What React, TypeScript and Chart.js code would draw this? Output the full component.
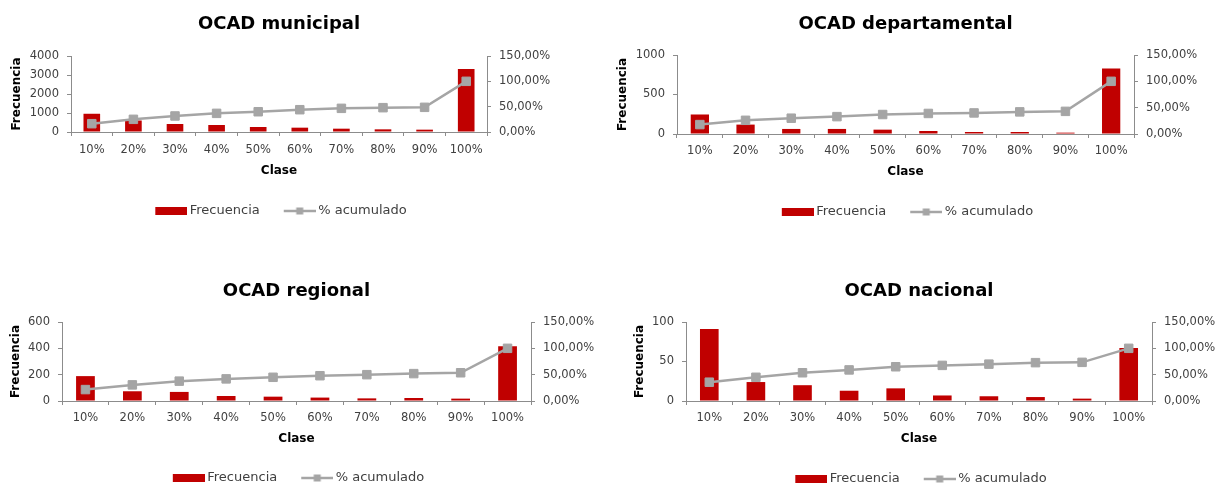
import React, { useEffect, useRef } from 'react';
import { Chart, registerables } from 'chart.js';

Chart.register(...registerables);

// ---------- data ----------
const categories = ['10%', '20%', '30%', '40%', '50%', '60%', '70%', '80%', '90%', '100%'];

const municipalFreq = [960, 605, 420, 368, 263, 228, 175, 140, 123, 3316];
const municipalPct = [16.4, 25.0, 31.6, 36.8, 40.0, 44.0, 46.7, 48.0, 48.7, 100];

const departamentalFreq = [247, 119, 64, 64, 55, 38, 25, 25, 17, 830];
const departamentalPct = [17.9, 26.0, 30.0, 33.0, 37.0, 39.0, 40.0, 42.0, 43.0, 100];

const regionalFreq = [189, 74, 69, 38, 33, 26, 20, 23, 18, 416];
const regionalPct = [21.7, 30.6, 37.7, 42.0, 45.0, 48.0, 50.0, 52.0, 53.6, 100];

const nacionalFreq = [91, 24, 20, 13, 16, 7, 6, 5, 3, 67];
const nacionalPct = [35.7, 45.0, 53.6, 59.0, 65.0, 67.6, 70.0, 72.8, 73.4, 100];

const seriesNames = ['Frecuencia', '% acumulado'];
const axisTitles = { y: 'Frecuencia', x: 'Clase' };

// ---------- styles ----------
const FONT = '"DejaVu Sans", sans-serif';
const BAR_COLOR = '#C00000';
const LINE_COLOR = '#A5A5A5';
const AXIS_COLOR = '#8C8C8C';
const TEXT_COLOR = '#404040';

Chart.defaults.font.family = FONT;

function makeBarSwatch(): HTMLCanvasElement {
  const c = document.createElement('canvas');
  c.width = 40;
  c.height = 8;
  const ctx = c.getContext('2d')!;
  ctx.fillStyle = BAR_COLOR;
  ctx.fillRect(8, 0, 32, 8);
  return c;
}

function makeLineSwatch(): HTMLCanvasElement {
  const c = document.createElement('canvas');
  c.width = 40;
  c.height = 10;
  const ctx = c.getContext('2d')!;
  ctx.strokeStyle = LINE_COLOR;
  ctx.lineWidth = 2.5;
  ctx.beginPath();
  ctx.moveTo(8, 5);
  ctx.lineTo(40, 5);
  ctx.stroke();
  ctx.fillStyle = LINE_COLOR;
  ctx.fillRect(24 - 3.5, 1.5, 7, 7);
  return c;
}

type Geo = {
  left: number; top: number; width: number; height: number;
  L: number; R: number; T: number; B: number;
  titleY: number; labelY: number; claseY: number; legendY: number; yTitleX: number;
};

type Props = {
  title: string;
  freq: number[];
  pct: number[];
  yMax: number;
  yStep: number;
  geo: Geo;
};

function ParetoChart({ title, freq, pct, yMax, yStep, geo }: Props) {
  const ref = useRef<HTMLCanvasElement | null>(null);

  useEffect(() => {
    if (!ref.current) return;
    const LEG_PAD = 20;
    const legendTop = geo.legendY - (LEG_PAD + 6.5);
    const xHeight = legendTop - geo.B;
    const legendHeight = 13 + LEG_PAD + 10;
    const padBottom = geo.height - (legendTop + legendHeight);
    const barSwatch = makeBarSwatch();
    const lineSwatch = makeLineSwatch();

    const chart = new Chart(ref.current, {
      type: 'bar',
      data: {
        labels: categories,
        datasets: [
          {
            type: 'bar',
            label: seriesNames[0],
            data: freq,
            backgroundColor: BAR_COLOR,
            yAxisID: 'y',
            order: 1,
            categoryPercentage: 1,
            barPercentage: 0.4,
          } as any,
          {
            type: 'line',
            label: seriesNames[1],
            data: pct,
            yAxisID: 'y1',
            borderColor: LINE_COLOR,
            borderWidth: 2.5,
            pointStyle: 'rect',
            pointRadius: 6,
            pointBackgroundColor: LINE_COLOR,
            pointBorderColor: LINE_COLOR,
            pointBorderWidth: 1,
            order: 0,
            tension: 0,
          } as any,
        ],
      },
      options: {
        animation: false,
        responsive: false,
        maintainAspectRatio: false,
        layout: { padding: { left: 0, right: 0, top: 0, bottom: padBottom } },
        plugins: {
          tooltip: { enabled: false },
          title: {
            display: true,
            text: title,
            fullSize: false,
            color: '#000000',
            font: { size: 18, weight: 'bold', family: FONT },
            padding: { top: geo.titleY - 10.8, bottom: geo.T - geo.titleY - 10.8 },
          },
          legend: {
            display: true,
            position: 'bottom',
            fullSize: false,
            labels: {
              usePointStyle: true,
              pointStyleWidth: 32,
              padding: LEG_PAD,
              color: TEXT_COLOR,
              font: { size: 13, family: FONT },
              generateLabels: () => [
                {
                  text: seriesNames[0],
                  pointStyle: barSwatch as any,
                  fillStyle: BAR_COLOR,
                  strokeStyle: 'rgba(0,0,0,0)',
                  lineWidth: 0,
                  hidden: false,
                  datasetIndex: 0,
                  fontColor: TEXT_COLOR,
                },
                {
                  text: seriesNames[1],
                  pointStyle: lineSwatch as any,
                  fillStyle: LINE_COLOR,
                  strokeStyle: 'rgba(0,0,0,0)',
                  lineWidth: 0,
                  hidden: false,
                  datasetIndex: 1,
                  fontColor: TEXT_COLOR,
                },
              ],
            },
          },
        },
        scales: {
          x: {
            type: 'category',
            offset: true,
            afterFit: (s: any) => { s.height = xHeight; },
            grid: {
              display: true,
              offset: true,
              drawOnChartArea: false,
              drawTicks: true,
              tickLength: 4,
              color: AXIS_COLOR,
            },
            border: { display: true, color: AXIS_COLOR, width: 1 },
            ticks: {
              color: TEXT_COLOR,
              font: { size: 11.5, family: FONT },
              padding: geo.labelY - geo.B - 4 - 6.9,
              maxRotation: 0,
              minRotation: 0,
              autoSkip: false,
            },
            title: {
              display: true,
              text: axisTitles.x,
              color: '#000000',
              font: { size: 12, weight: 'bold', family: FONT },
              padding: { top: 0, bottom: legendTop - 7.2 - geo.claseY },
            },
          },
          y: {
            type: 'linear',
            position: 'left',
            min: 0,
            max: yMax,
            afterFit: (s: any) => { s.width = geo.L; },
            grid: {
              display: true,
              drawOnChartArea: false,
              drawTicks: true,
              tickLength: 4,
              color: AXIS_COLOR,
            },
            border: { display: true, color: AXIS_COLOR, width: 1 },
            ticks: {
              stepSize: yStep,
              color: TEXT_COLOR,
              font: { size: 11.5, family: FONT },
              padding: 8,
              callback: (v: any) => String(v),
            },
            title: {
              display: true,
              text: axisTitles.y,
              color: '#000000',
              font: { size: 12, weight: 'bold', family: FONT },
              padding: { top: geo.yTitleX - 7.2, bottom: 0 },
            },
          },
          y1: {
            type: 'linear',
            position: 'right',
            min: 0,
            max: 150,
            afterFit: (s: any) => { s.width = geo.width - geo.R; },
            grid: {
              display: true,
              drawOnChartArea: false,
              drawTicks: true,
              tickLength: 4,
              color: AXIS_COLOR,
            },
            border: { display: true, color: AXIS_COLOR, width: 1 },
            ticks: {
              stepSize: 50,
              color: TEXT_COLOR,
              font: { size: 11.5, family: FONT },
              padding: 8,
              callback: (v: any) => Number(v).toFixed(2).replace('.', ',') + '%',
            },
          },
        },
      } as any,
    });
    return () => chart.destroy();
  }, [title, freq, pct, yMax, yStep, geo]);

  return (
    <canvas
      ref={ref}
      width={geo.width}
      height={geo.height}
      style={{ position: 'absolute', left: geo.left, top: geo.top, width: geo.width, height: geo.height }}
    />
  );
}

const geoMunicipal: Geo = { left: 0, top: 0, width: 600, height: 230, L: 71, R: 487, T: 56, B: 132, titleY: 24, labelY: 150, claseY: 171, legendY: 211, yTitleX: 17 };
const geoDepartamental: Geo = { left: 600, top: 0, width: 615, height: 230, L: 77, R: 534, T: 55, B: 134, titleY: 24, labelY: 151, claseY: 172, legendY: 212, yTitleX: 23 };
const geoRegional: Geo = { left: 0, top: 267, width: 600, height: 230, L: 62, R: 531, T: 55, B: 134, titleY: 24, labelY: 151, claseY: 172, legendY: 211, yTitleX: 16 };
const geoNacional: Geo = { left: 600, top: 267, width: 615, height: 230, L: 86, R: 552, T: 55, B: 134, titleY: 24, labelY: 151, claseY: 172, legendY: 212, yTitleX: 40 };

export default function App() {
  return (
    <div style={{ position: 'fixed', left: 0, top: 0, width: 1215, height: 484, overflow: 'hidden', background: '#ffffff' }}>
      <ParetoChart title="OCAD municipal" freq={municipalFreq} pct={municipalPct} yMax={4000} yStep={1000} geo={geoMunicipal} />
      <ParetoChart title="OCAD departamental" freq={departamentalFreq} pct={departamentalPct} yMax={1000} yStep={500} geo={geoDepartamental} />
      <ParetoChart title="OCAD regional" freq={regionalFreq} pct={regionalPct} yMax={600} yStep={200} geo={geoRegional} />
      <ParetoChart title="OCAD nacional" freq={nacionalFreq} pct={nacionalPct} yMax={100} yStep={50} geo={geoNacional} />
    </div>
  );
}
